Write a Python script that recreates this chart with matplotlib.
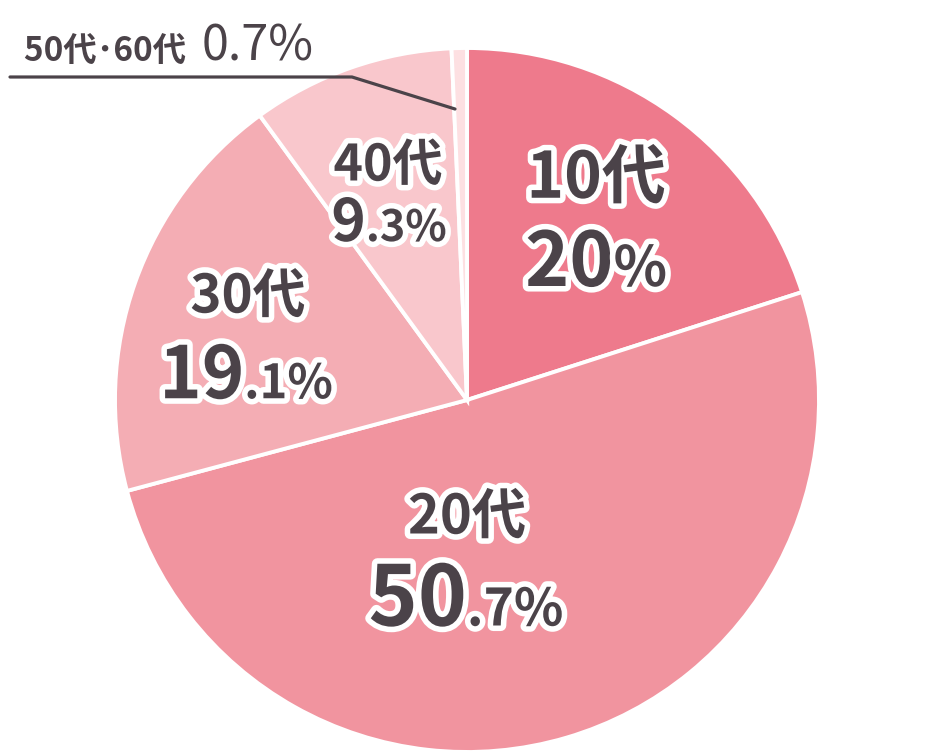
import matplotlib
matplotlib.use("Agg")
import matplotlib.pyplot as plt
import matplotlib.patheffects as pe
from matplotlib.offsetbox import TextArea, HPacker, AnnotationBbox

plt.rcParams["font.family"] = ["Noto Sans CJK JP", "DejaVu Sans"]

# data
labels = ["10代", "20代", "30代", "40代", "50代･60代"]
values = [20, 50.7, 19.1, 9.3, 0.7]
colors = ["#EE7A8C", "#F1949F", "#F4ADB4", "#F9C7CC", "#FDE0E2"]

W, H = 934, 756
TXT = "#4B4349"

fig = plt.figure(figsize=(W / 100, H / 100), dpi=100)
ax = fig.add_axes([0, 0, 1, 1])

ax.pie(values, colors=colors, startangle=90, counterclock=False,
       center=(467, H - 400), radius=352,
       wedgeprops=dict(edgecolor="white", linewidth=2.8))
ax.set_xlim(0, W)
ax.set_ylim(0, H)
ax.set_aspect("equal")
ax.axis("off")

stroke = [pe.withStroke(linewidth=8, foreground="white")]


def put(parts, x, y, align=(0.5, 0.5), weight="bold", effects=stroke):
    areas = []
    for s, size, *w in parts:
        areas.append(TextArea(s, textprops=dict(
            fontsize=size, color=TXT, fontweight=(w[0] if w else weight),
            path_effects=effects)))
    box = HPacker(children=areas, align="baseline", pad=0, sep=0)
    ab = AnnotationBbox(box, (x, H - y), frameon=False, box_alignment=align,
                        pad=0, annotation_clip=False)
    ax.add_artist(ab)


# slice labels (name, then percentage with smaller decimals)
put([(labels[0], 46)], 596, 179)
put([("20", 54), ("%", 40)], 596, 264)

put([(labels[1], 39)], 467, 518)
put([("50", 60), (".7%", 37)], 466, 601)

put([(labels[2], 38)], 248, 297)
put([("19", 52), (".1%", 34)], 246, 377)

put([(labels[3], 36)], 388, 166)
put([("9", 42), (".3%", 31)], 389, 224)

# small slice with leader line
put([(labels[4] + "  ", 24, "bold"), ("0.7%", 35, "normal")], 24, 47,
    align=(0, 0.5), effects=None)
ax.plot([10, 352, 455], [H - 77, H - 77, H - 109], color=TXT, lw=2.3,
        solid_capstyle="round", solid_joinstyle="round")

fig.savefig("out.png", dpi=100)
